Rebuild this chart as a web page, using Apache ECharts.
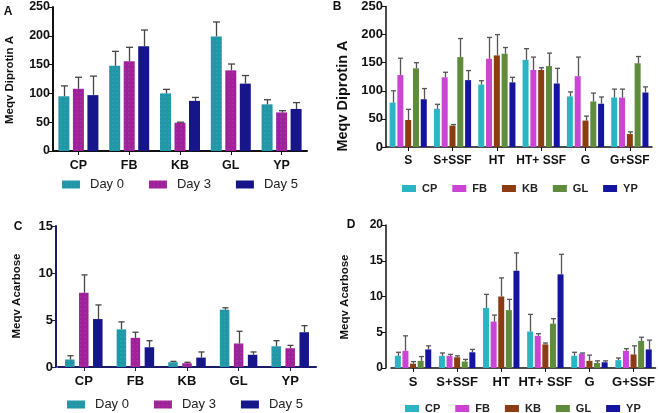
<!DOCTYPE html>
<html><head><meta charset="utf-8">
<script src="https://cdn.jsdelivr.net/npm/echarts@6/dist/echarts.min.js"></script>
<style>html,body{margin:0;padding:0;background:#fff}#c{width:658px;height:413px}</style>
</head><body><div id="c"></div>
<script>
// ---- data ----
const catsFruit = ['CP','FB','KB','GL','YP'];
const catsTreat = ['S','S+SSF','HT','HT+ SSF','G','G+SSF'];
const dayNames = ['Day 0','Day 3','Day 5'];
const srcNames = ['CP','FB','KB','GL','YP'];
const yTicksA = [0,50,100,150,200,250];
const yTicksC = [0,5,10,15];
const yTicksD = [0,5,10,15,20];

// Panel A: Meqv Diprotin A by day
const aDay0 = [95,148,100,199,81];   const aDay0Sd = [18,25,7,25,8];
const aDay3 = [108,156,49,140,67];   const aDay3Sd = [20,24,1,11,3];
const aDay5 = [97,182,87,117,73];    const aDay5Sd = [33,28,6,14,11];

// Panel B: Meqv Diprotin A by treatment
const bCP = [79,68,111,155,90,88];   const bCPSd = [21,8,7,20,8,15];
const bFB = [128,124,157,137,126,88];const bFBSd = [30,9,38,23,34,15];
const bKB = [48,38,163,137,47,23];   const bKBSd = [19,2,37,4,8,4];
const bGL = [140,160,166,144,81,149];const bGLSd = [10,33,11,23,15,12];
const bYP = [85,119,115,113,77,97];  const bYPSd = [19,17,9,27,12,10];

// Panel C: Meqv Acarbose by day
const cDay0 = [0.8,4.0,0.5,6.1,2.2]; const cDay0Sd = [0.4,0.8,0.1,0.2,0.6];
const cDay3 = [7.9,3.1,0.4,2.5,2.0]; const cDay3Sd = [1.9,0.6,0.1,1.3,0.3];
const cDay5 = [5.1,2.1,1.0,1.3,3.7]; const cDay5Sd = [1.5,0.7,0.6,0.3,0.7];

// Panel D: Meqv Acarbose by treatment
const dCP = [1.7,1.7,8.4,5.1,1.7,1.1];  const dCPSd = [0.5,0.4,1.9,2.4,0.5,0.3];
const dFB = [2.4,1.7,6.5,4.5,2.0,2.4];  const dFBSd = [2.1,0.2,0.9,0.3,0.1,0.3];
const dKB = [0.6,1.5,10.0,3.3,1.0,1.9]; const dKBSd = [0.3,0.2,2.6,0.2,0.8,1.2];
const dGL = [1.0,0.9,8.1,6.2,0.7,3.8];  const dGLSd = [0.6,0.3,1.5,0.7,0.3,0.5];
const dYP = [2.6,2.2,13.6,13.1,0.8,2.6];const dYPSd = [0.5,0.4,2.5,2.8,0.2,1.3];

// ---- styles ----
const FONT = "'Liberation Sans', Arial, sans-serif";
const dayColors = ['#2196a6','#a0209a','#16168a'];
const srcColors = ['#2bb5c4','#cc44d4','#8b3c10','#5e8c3c','#1414a0'];
const decalDot = {symbol:'rect', symbolSize:0.5, dashArrayX:[2,2], dashArrayY:[2,2], color:'rgba(255,255,255,0.22)'};

const chart = echarts.init(document.getElementById('c'), null, {renderer:'canvas'});

const panels = [
  {grid:{left:53,top:7,width:254,height:144}, cats:catsFruit, max:250, interval:50, names:dayNames,
   vals:[aDay0,aDay3,aDay5], sds:[aDay0Sd,aDay3Sd,aDay5Sd], colors:dayColors, bw:11, gap:3.5, decal:true,
   axisColor:'#111', tickFont:12.5, catFont:12.5, yOffset:0, errColor:'#444'},
  {grid:{left:386,top:5,width:266,height:142}, cats:catsTreat, max:250, interval:50, names:srcNames,
   vals:[bCP,bFB,bKB,bGL,bYP], sds:[bCPSd,bFBSd,bKBSd,bGLSd,bYPSd], colors:srcColors, bw:6, gap:1.8, decal:false,
   axisColor:'#111', tickFont:13, catFont:12, yOffset:0, errColor:'#555'},
  {grid:{left:58,top:226,width:258,height:141}, cats:catsFruit, max:15, interval:5, names:dayNames,
   vals:[cDay0,cDay3,cDay5], sds:[cDay0Sd,cDay3Sd,cDay5Sd], colors:dayColors, bw:9.5, gap:4.5, decal:true,
   axisColor:'#1c1c66', tickFont:13, catFont:13, yOffset:2, errColor:'#444'},
  {grid:{left:391,top:225,width:265,height:143}, cats:catsTreat, max:20, interval:5, names:srcNames,
   vals:[dCP,dFB,dKB,dGL,dYP], sds:[dCPSd,dFBSd,dKBSd,dGLSd,dYPSd], colors:srcColors, bw:6, gap:1.6, decal:false,
   axisColor:'#111', tickFont:12, catFont:13, yOffset:5, errColor:'#555'}
];

const grids=[], xAxes=[], yAxes=[], series=[];
panels.forEach((p, gi) => {
  grids.push(p.grid);
  xAxes.push({type:'category', gridIndex:gi, data:p.cats,
    axisLine:{lineStyle:{color:p.axisColor, width:gi===1||gi===3?1.5:2}},
    axisTick:{show:true, alignWithLabel:true, length:4, lineStyle:{color:p.axisColor}},
    axisLabel:{fontFamily:FONT, fontWeight:'bold', fontSize:p.catFont, color:'#111', margin:8, interval:0}});
  yAxes.push({type:'value', gridIndex:gi, min:0, max:p.max, interval:p.interval, offset:p.yOffset,
    splitLine:{show:false},
    axisLine:{show:true, lineStyle:{color:p.axisColor, width:gi===1||gi===3?1.5:2}},
    axisTick:{show:true, length:5, lineStyle:{color:p.axisColor}},
    axisLabel:{fontFamily:FONT, fontWeight:'bold', fontSize:p.tickFont, color:'#111', margin:3}});
  const n = p.vals.length;
  const total = n*p.bw + (n-1)*p.gap;
  p.vals.forEach((arr, si) => {
    const item = {color:p.colors[si]};
    if (p.decal && si < 2) item.decal = decalDot;
    series.push({type:'bar', name:p.names[si], xAxisIndex:gi, yAxisIndex:gi, data:arr,
      barWidth:p.bw, barGap:(p.gap/p.bw*100)+'%', itemStyle:item, z:2, silent:true});
    const off = -total/2 + p.bw/2 + si*(p.bw+p.gap);
    const errData = arr.map((v,i)=>[i, v, v + p.sds[si][i]]);
    series.push({type:'custom', xAxisIndex:gi, yAxisIndex:gi, data:errData, z:3, silent:true,
      encode:{x:0, y:[1,2]},
      renderItem:(params, api) => {
        const i = api.value(0);
        const base = api.coord([i, api.value(1)]);
        const top = api.coord([i, api.value(2)]);
        const x = Math.round(base[0] + off) + 0.5;
        const cap = Math.max(2.5, p.bw*0.32);
        return {type:'group', children:[
          {type:'line', shape:{x1:x, y1:base[1], x2:x, y2:top[1]}, style:{stroke:p.errColor, lineWidth:1.3}},
          {type:'line', shape:{x1:x-cap, y1:top[1], x2:x+cap, y2:top[1]}, style:{stroke:p.errColor, lineWidth:1.3}}
        ]};
      }});
  });
});

const legendDay = (top,left) => ({top, left, orient:'horizontal', data:dayNames, icon:'rect',
  itemWidth:18, itemHeight:8, itemGap:25, selectedMode:false,
  textStyle:{fontFamily:FONT, fontSize:13, color:'#222', padding:[0,0,0,5]}});
const legendSrc = (top,left) => ({top, left, orient:'horizontal', data:srcNames, icon:'rect',
  itemWidth:14, itemHeight:7, itemGap:15, selectedMode:false,
  textStyle:{fontFamily:FONT, fontSize:11, fontWeight:'bold', color:'#222', padding:[0,0,0,1]}});

const txt = (x,y,s,size,rot) => ({type:'text', x, y, rotation:rot||0,
  style:{text:s, font:'bold '+size+'px '+FONT, fill:'#111', textAlign:'center', textVerticalAlign:'middle'}});

chart.setOption({
  animation:false,
  grid:grids, xAxis:xAxes, yAxis:yAxes, series,
  legend:[legendDay(173,57), legendSrc(178,397), legendDay(393,62), legendSrc(398,400)],
  graphic:[
    txt(8,12,'A',12), txt(337,7,'B',12), txt(18,227,'C',12), txt(351,225,'D',12),
    txt(10,80,'Meqv Diprotin A',11.5,Math.PI/2),
    txt(343,96,'Meqv Diprotin A',14.5,Math.PI/2),
    txt(17,296,'Meqv Acarbose',11.5,Math.PI/2),
    txt(345,297,'Meqv Acarbose',11.5,Math.PI/2)
  ]
});
</script></body></html>
